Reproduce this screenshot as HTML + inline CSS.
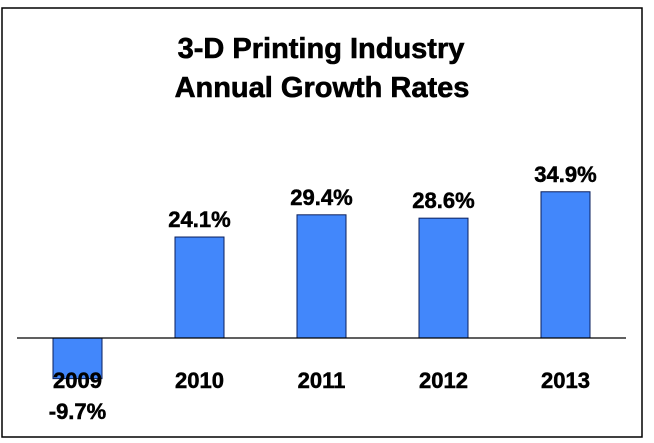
<!DOCTYPE html>
<html><head><meta charset="utf-8"><style>
html,body{margin:0;padding:0;background:#fff}
svg{display:block;font-family:"Liberation Sans",Arial,sans-serif;font-weight:bold}
</style></head><body>
<svg width="654" height="443" viewBox="0 0 654 443">
<rect x="2" y="8" width="640" height="429" fill="#fff" stroke="#000" stroke-width="1.5"/>
<text x="321" y="58" font-size="29" text-anchor="middle" stroke="#000" stroke-width="0.6">3-D Printing Industry</text>
<text x="322" y="97" font-size="29" text-anchor="middle" stroke="#000" stroke-width="0.6">Annual Growth Rates</text>
<g id="bars"></g>
<line x1="17" y1="338" x2="626" y2="338" stroke="#000" stroke-width="1.2"/>
<g id="labels"></g>
</svg>
<script>
const years = ["2009","2010","2011","2012","2013"];
const growth = [-9.7, 24.1, 29.4, 28.6, 34.9];
const valueLabels = ["-9.7%","24.1%","29.4%","28.6%","34.9%"];
const NS="http://www.w3.org/2000/svg";
const y0=338, scale=4.19;
function yPos(v){return y0 - v*scale;}
function xPos(i){return 53 + i*122;}
const bw=49;
const bars=document.getElementById('bars'), labels=document.getElementById('labels');
growth.forEach((v,i)=>{
  const r=document.createElementNS(NS,'rect');
  const top=Math.min(yPos(v),y0), h=Math.abs(yPos(v)-y0);
  r.setAttribute('x',xPos(i));r.setAttribute('y',top);r.setAttribute('width',bw);r.setAttribute('height',h);
  r.setAttribute('fill','#4287fb');r.setAttribute('stroke','#0a1f5c');r.setAttribute('stroke-width','1');
  
  
  bars.appendChild(r);
  const cx=xPos(i)+bw/2;
  const yl=document.createElementNS(NS,'text');
  yl.setAttribute('x',cx);yl.setAttribute('y',388);yl.setAttribute('font-size','22');yl.setAttribute('text-anchor','middle');
  yl.setAttribute('stroke','#000');yl.setAttribute('stroke-width','0.5');
  yl.textContent=years[i];
  
  
  labels.appendChild(yl);
  const vl=document.createElementNS(NS,'text');
  vl.setAttribute('x',cx);vl.setAttribute('y',v>=0?yPos(v)-10:419);vl.setAttribute('font-size','22');vl.setAttribute('text-anchor','middle');
  vl.setAttribute('stroke','#000');vl.setAttribute('stroke-width','0.5');
  vl.textContent=valueLabels[i];
  
  
  labels.appendChild(vl);
});
</script>
</body></html>
